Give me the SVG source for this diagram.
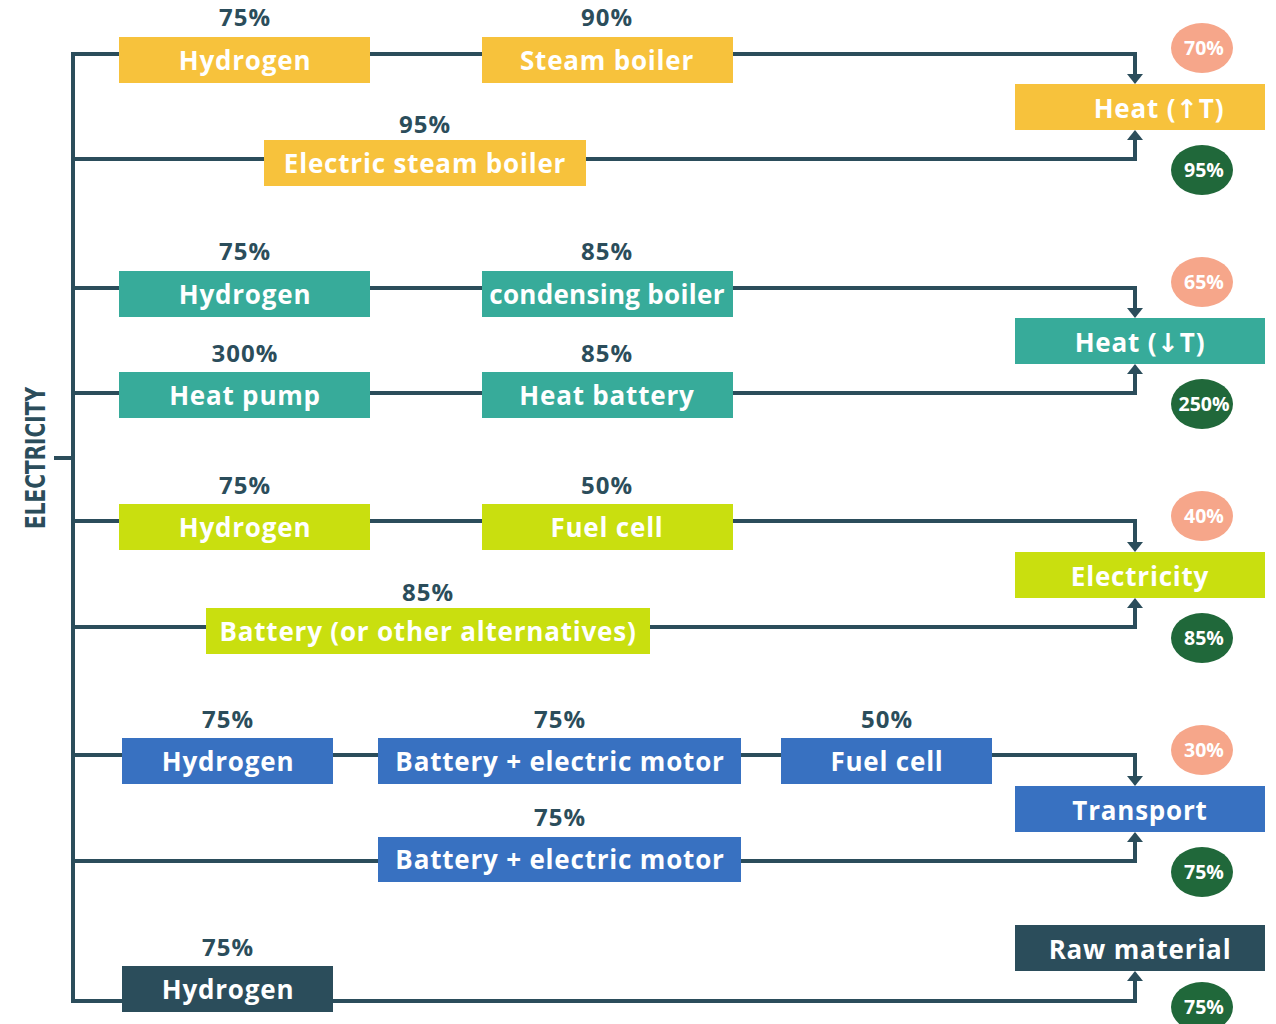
<svg xmlns="http://www.w3.org/2000/svg" width="1276" height="1024" viewBox="0 0 1276 1024">
<style>
.bx text{font-family:"Open Sans","DejaVu Sans",sans-serif;font-weight:700;font-size:26px;fill:#fff;text-anchor:middle;letter-spacing:0.8px}
.pct{font-family:"Open Sans","DejaVu Sans",sans-serif;font-weight:700;font-size:24px;fill:#2b4d5b;text-anchor:middle;letter-spacing:1px}
.ci text{font-family:"Open Sans","DejaVu Sans",sans-serif;font-weight:700;font-size:19.5px;fill:#fff;text-anchor:middle}
.y{fill:#f7c23c}.t{fill:#37ab9a}.l{fill:#c9df0f}.b{fill:#3871c1}.d{fill:#2b4d5b}
.lo{fill:#f6a68a}.gr{fill:#20683a}
.ln{fill:none;stroke:#2b4d5b;stroke-width:4}
</style>
<defs>
<marker id="ah" viewBox="0 0 10 16" refX="2" refY="8" markerWidth="10" markerHeight="16" markerUnits="userSpaceOnUse" orient="auto">
<path d="M0,0 L10,8 L0,16 z" fill="#2b4d5b"/>
</marker>
</defs>
<rect width="1276" height="1024" fill="#fff"/>
<g id="connectors">
<path class="ln" d="M73 52 V1003"/>
<path class="ln" d="M54 458 H73"/>
<path class="ln" d="M73 54 H1135 V76" marker-end="url(#ah)"/>
<path class="ln" d="M73 159 H1135 V138" marker-end="url(#ah)"/>
<path class="ln" d="M73 288 H1135 V310" marker-end="url(#ah)"/>
<path class="ln" d="M73 393 H1135 V372" marker-end="url(#ah)"/>
<path class="ln" d="M73 521 H1135 V544" marker-end="url(#ah)"/>
<path class="ln" d="M73 627 H1135 V606" marker-end="url(#ah)"/>
<path class="ln" d="M73 755 H1135 V778" marker-end="url(#ah)"/>
<path class="ln" d="M73 861 H1135 V840" marker-end="url(#ah)"/>
<path class="ln" d="M73 1001 H1135 V979" marker-end="url(#ah)"/>
</g>
<g id="electricity-label"><text x="0" y="0" transform="translate(45,458) rotate(-90)" font-family="'DejaVu Sans Condensed','DejaVu Sans',sans-serif" font-weight="700" font-size="26" fill="#2b4d5b" text-anchor="middle" textLength="142" lengthAdjust="spacingAndGlyphs">ELECTRICITY</text></g>

<g id="pcts">
<text class="pct" x="245" y="26">75%</text>
<text class="pct" x="607" y="26">90%</text>
<text class="pct" x="425" y="133">95%</text>
<text class="pct" x="245" y="260">75%</text>
<text class="pct" x="607" y="260">85%</text>
<text class="pct" x="245" y="362">300%</text>
<text class="pct" x="607" y="362">85%</text>
<text class="pct" x="245" y="494">75%</text>
<text class="pct" x="607" y="494">50%</text>
<text class="pct" x="428" y="601">85%</text>
<text class="pct" x="228" y="728">75%</text>
<text class="pct" x="560" y="728">75%</text>
<text class="pct" x="887" y="728">50%</text>
<text class="pct" x="560" y="826">75%</text>
<text class="pct" x="228" y="956">75%</text>
</g>

<g id="n-hydrogen-1" class="bx"><rect class="y" x="119" y="37" width="251" height="46"/><text x="245" y="70">Hydrogen</text></g>
<g id="n-steam-boiler" class="bx"><rect class="y" x="482" y="37" width="251" height="46"/><text x="607" y="70">Steam boiler</text></g>
<g id="n-electric-steam-boiler" class="bx"><rect class="y" x="264" y="140" width="322" height="46"/><text x="425" y="173">Electric steam boiler</text></g>
<g id="n-heat-high" class="bx"><rect class="y" x="1015" y="84" width="250" height="46"/><text x="1159" y="118">Heat (↑T)</text></g>

<g id="n-hydrogen-2" class="bx"><rect class="t" x="119" y="271" width="251" height="46"/><text x="245" y="304">Hydrogen</text></g>
<g id="n-condensing-boiler" class="bx"><rect class="t" x="482" y="271" width="251" height="46"/><text x="607" y="304" style="letter-spacing:0.3px">condensing boiler</text></g>
<g id="n-heat-pump" class="bx"><rect class="t" x="119" y="372" width="251" height="46"/><text x="245" y="405">Heat pump</text></g>
<g id="n-heat-battery" class="bx"><rect class="t" x="482" y="372" width="251" height="46"/><text x="607" y="405">Heat battery</text></g>
<g id="n-heat-low" class="bx"><rect class="t" x="1015" y="318" width="250" height="46"/><text x="1140" y="352">Heat (↓T)</text></g>

<g id="n-hydrogen-3" class="bx"><rect class="l" x="119" y="504" width="251" height="46"/><text x="245" y="537">Hydrogen</text></g>
<g id="n-fuel-cell-1" class="bx"><rect class="l" x="482" y="504" width="251" height="46"/><text x="607" y="537">Fuel cell</text></g>
<g id="n-battery-alt" class="bx"><rect class="l" x="206" y="608" width="444" height="46"/><text x="428" y="641">Battery (or other alternatives)</text></g>
<g id="n-electricity" class="bx"><rect class="l" x="1015" y="552" width="250" height="46"/><text x="1140" y="586">Electricity</text></g>

<g id="n-hydrogen-4" class="bx"><rect class="b" x="122" y="738" width="211" height="46"/><text x="228" y="771">Hydrogen</text></g>
<g id="n-battery-motor-1" class="bx"><rect class="b" x="378" y="738" width="363" height="46"/><text x="560" y="771">Battery + electric motor</text></g>
<g id="n-fuel-cell-2" class="bx"><rect class="b" x="781" y="738" width="211" height="46"/><text x="887" y="771">Fuel cell</text></g>
<g id="n-battery-motor-2" class="bx"><rect class="b" x="378" y="837" width="363" height="45"/><text x="560" y="869">Battery + electric motor</text></g>
<g id="n-transport" class="bx"><rect class="b" x="1015" y="786" width="250" height="46"/><text x="1140" y="820">Transport</text></g>

<g id="n-hydrogen-5" class="bx"><rect class="d" x="122" y="966" width="211" height="46"/><text x="228" y="999">Hydrogen</text></g>
<g id="n-raw-material" class="bx"><rect class="d" x="1015" y="925" width="250" height="46"/><text x="1140" y="959">Raw material</text></g>

<g id="c-70" class="ci"><ellipse class="lo" cx="1202" cy="48" rx="31" ry="25"/><text x="1204" y="55">70%</text></g>
<g id="c-95" class="ci"><ellipse class="gr" cx="1202" cy="170" rx="31" ry="25"/><text x="1204" y="177">95%</text></g>
<g id="c-65" class="ci"><ellipse class="lo" cx="1202" cy="282" rx="31" ry="25"/><text x="1204" y="289">65%</text></g>
<g id="c-250" class="ci"><ellipse class="gr" cx="1202" cy="404" rx="31" ry="25"/><text x="1204" y="411">250%</text></g>
<g id="c-40" class="ci"><ellipse class="lo" cx="1202" cy="516" rx="31" ry="25"/><text x="1204" y="523">40%</text></g>
<g id="c-85" class="ci"><ellipse class="gr" cx="1202" cy="638" rx="31" ry="25"/><text x="1204" y="645">85%</text></g>
<g id="c-30" class="ci"><ellipse class="lo" cx="1202" cy="750" rx="31" ry="25"/><text x="1204" y="757">30%</text></g>
<g id="c-75a" class="ci"><ellipse class="gr" cx="1202" cy="872" rx="31" ry="25"/><text x="1204" y="879">75%</text></g>
<g id="c-75b" class="ci"><ellipse class="gr" cx="1202" cy="1007" rx="31" ry="25"/><text x="1204" y="1014">75%</text></g>
</svg>
